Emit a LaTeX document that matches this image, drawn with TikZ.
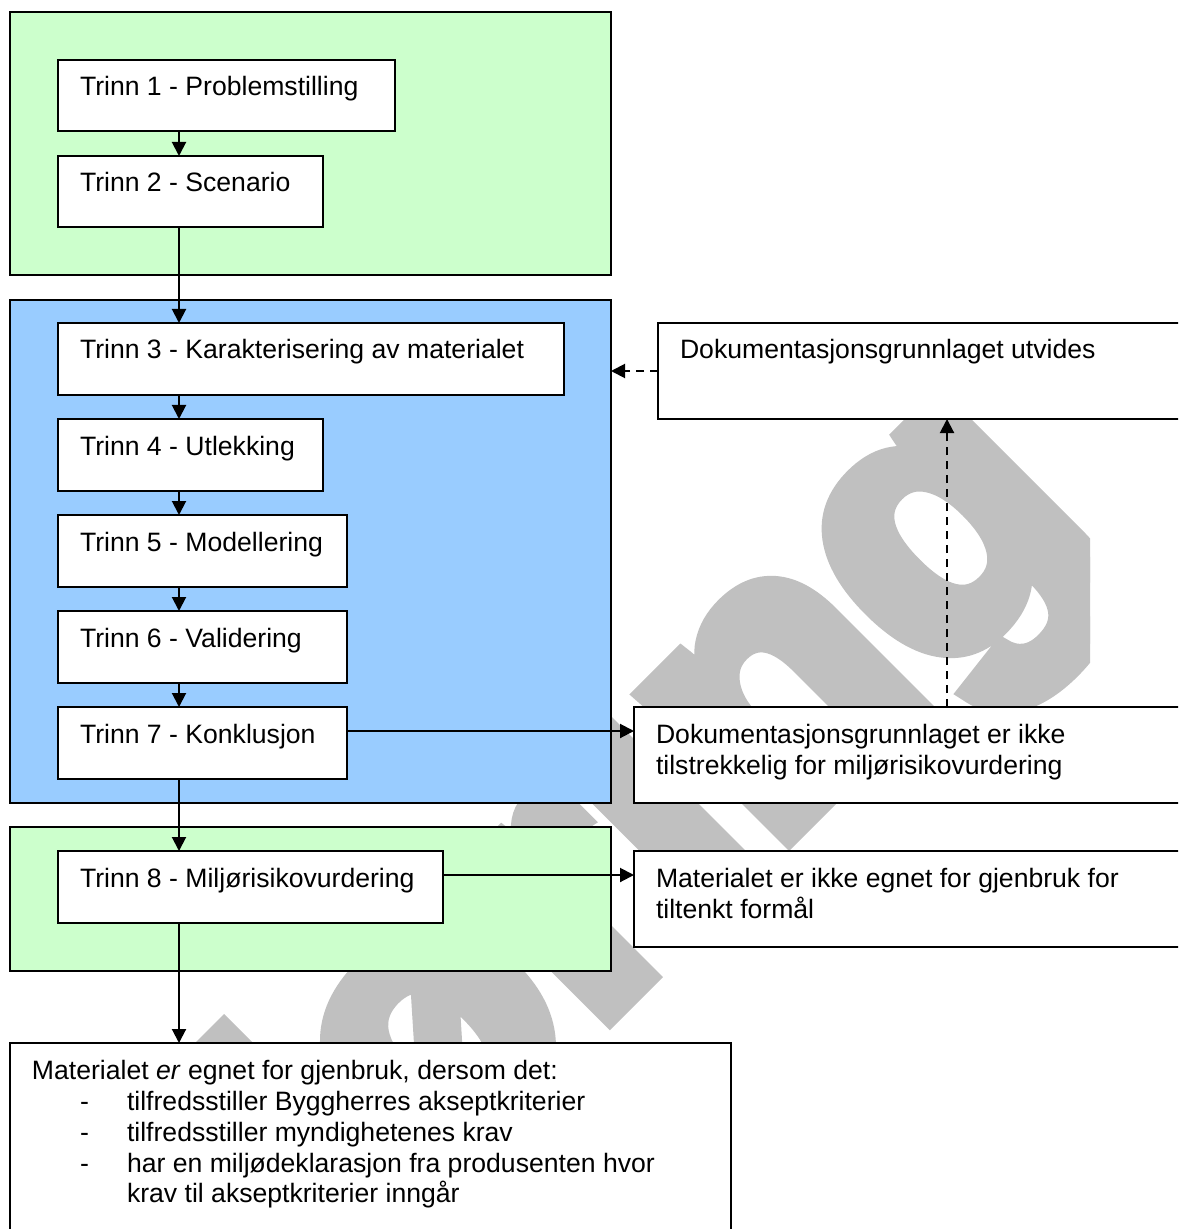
\documentclass[tikz,border=0pt]{standalone}
\usepackage{fontspec}
\setmainfont{Liberation Sans}
\newfontface\wmface{Liberation Sans Bold}[FakeBold=6]
\usetikzlibrary{arrows.meta,calc}
\definecolor{grn}{HTML}{CCFFCC}
\definecolor{blu}{HTML}{99CCFF}
\definecolor{wmgray}{HTML}{C0C0C0}
\tikzset{
  sz/.style 2 args={minimum width=#1*0.5pt, minimum height=#2*0.5pt},
  container/.style={draw=black, line width=1.15pt, anchor=north west, inner sep=0pt, outer sep=0pt},
  stepbox/.style={draw=black, fill=white, line width=1.15pt, anchor=north west, inner sep=0pt, outer sep=0pt},
  txt/.style={anchor=base west, inner sep=0pt, outer sep=0pt, font=\fontsize{13.3pt}{15.4pt}\selectfont},
  conn/.style={line width=1pt, -{Triangle[length=7pt,width=7pt]}},
  dconn/.style={conn, dash pattern=on 4pt off 3pt},
  wmark/.style={anchor=base west, rotate=45, inner sep=0pt, outer sep=0pt, text=wmgray, font=\fontsize{190pt}{190pt}\wmface},
}
\begin{document}
\begin{tikzpicture}[x=0.5pt, y=-0.5pt]
\useasboundingbox (0,0) rectangle (1178,1229);
\clip (0,0) rectangle (1178,1229);
\fill[white] (0,0) rectangle (1178,1229);
% watermark (clipped at the page margin)
\begin{scope}
\clip (0,0) rectangle (1090,1229);
\node[wmark] (wm) at (233,1391) {Høring};
\end{scope}
% containers
\node[container, fill=grn, sz={601}{263}] (g1) at (10,12) {};
\node[container, fill=blu, sz={601}{503}] (bl) at (10,300) {};
\node[container, fill=grn, sz={601}{144}] (g2) at (10,827) {};
% steps
\node[stepbox, sz={337}{71}] (t1) at (58,60) {};
\node[stepbox, sz={265}{71}] (t2) at (58,156) {};
\node[stepbox, sz={506}{72}] (t3) at (58,323) {};
\node[stepbox, sz={265}{72}] (t4) at (58,419) {};
\node[stepbox, sz={289}{72}] (t5) at (58,515) {};
\node[stepbox, sz={289}{72}] (t6) at (58,611) {};
\node[stepbox, sz={289}{72}] (t7) at (58,707) {};
\node[stepbox, sz={385}{72}] (t8) at (58,851) {};
\node[stepbox, sz={540}{96}] (r1) at (658,323) {};
\node[stepbox, sz={564}{96}] (r2) at (634,707) {};
\node[stepbox, sz={564}{96}] (r3) at (634,851) {};
\node[stepbox, sz={721}{200}] (bt) at (10,1043) {};
% texts
\node[txt] (t1x) at ($(t1.north west)+(22,36)$) {Trinn 1 - Problemstilling};
\node[txt] (t2x) at ($(t2.north west)+(22,36)$) {Trinn 2 - Scenario};
\node[txt] (t3x) at ($(t3.north west)+(22,36)$) {Trinn 3 - Karakterisering av materialet};
\node[txt] (t4x) at ($(t4.north west)+(22,36)$) {Trinn 4 - Utlekking};
\node[txt] (t5x) at ($(t5.north west)+(22,36)$) {Trinn 5 - Modellering};
\node[txt] (t6x) at ($(t6.north west)+(22,36)$) {Trinn 6 - Validering};
\node[txt] (t7x) at ($(t7.north west)+(22,36)$) {Trinn 7 - Konklusjon};
\node[txt] (t8x) at ($(t8.north west)+(22,36)$) {Trinn 8 - Miljørisikovurdering};
\node[txt] (r1x) at ($(r1.north west)+(22,36)$) {Dokumentasjonsgrunnlaget utvides};
\node[txt] (r2x) at ($(r2.north west)+(22,36)$) {Dokumentasjonsgrunnlaget er ikke};
\node[txt] (r2y) at ($(r2.north west)+(22,67)$) {tilstrekkelig for miljørisikovurdering};
\node[txt] (r3x) at ($(r3.north west)+(22,36)$) {Materialet er ikke egnet for gjenbruk for};
\node[txt] (r3y) at ($(r3.north west)+(22,67)$) {tiltenkt formål};
\node[txt] (b0) at ($(bt.north west)+(22,36)$) {Materialet \textit{er} egnet for gjenbruk, dersom det:};
\node[txt] (d1) at ($(bt.north west)+(70,67)$) {-};
\node[txt] (d2) at ($(bt.north west)+(70,98)$) {-};
\node[txt] (d3) at ($(bt.north west)+(70,129)$) {-};
\node[txt] (b1) at ($(bt.north west)+(117,67)$) {tilfredsstiller Byggherres akseptkriterier};
\node[txt] (b2) at ($(bt.north west)+(117,98)$) {tilfredsstiller myndighetenes krav};
\node[txt] (b3) at ($(bt.north west)+(117,129)$) {har en miljødeklarasjon fra produsenten hvor};
\node[txt] (b4) at ($(bt.north west)+(117,159)$) {krav til akseptkriterier inngår};
% connectors
\coordinate (ax) at (179,0);
\coordinate (dx) at (947,0);
\draw[conn] (t1.south -| ax) -- (t2.north -| ax);
\draw[conn] (t2.south -| ax) -- (t3.north -| ax);
\draw[conn] (t3.south -| ax) -- (t4.north -| ax);
\draw[conn] (t4.south -| ax) -- (t5.north -| ax);
\draw[conn] (t5.south -| ax) -- (t6.north -| ax);
\draw[conn] (t6.south -| ax) -- (t7.north -| ax);
\draw[conn] (t7.south -| ax) -- (t8.north -| ax);
\draw[conn] (t8.south -| ax) -- (bt.north -| ax);
\draw[conn] ([yshift=-12pt]t7.north east) -- ([yshift=-12pt]r2.north west);
\draw[conn] ([yshift=-12pt]t8.north east) -- ([yshift=-12pt]r3.north west);
\draw[dconn] (r2.north -| dx) -- (r1.south -| dx);
\draw[dconn] (r1.west) -- (r1.west -| bl.east);
\end{tikzpicture}
\end{document}
